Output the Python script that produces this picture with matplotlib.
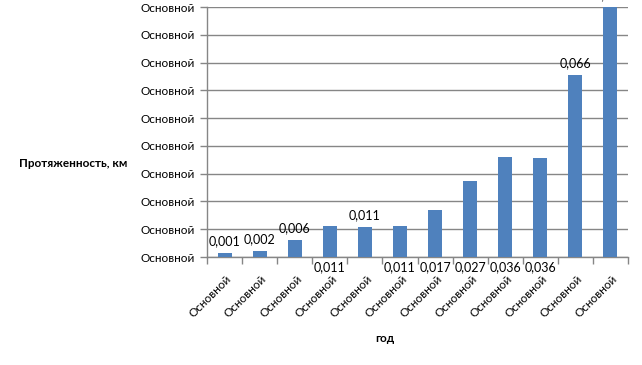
import matplotlib
matplotlib.use("Agg")
import matplotlib.pyplot as plt

plt.rcParams['font.family'] = ['Lato', 'DejaVu Sans']

categories = ["Основной"] * 12
values = [0.0014, 0.0023, 0.0062, 0.0113, 0.0109, 0.0113, 0.0169, 0.0273, 0.0361, 0.0356, 0.0655, 0.090]
value_labels = ["0,001", "0,002", "0,006", "0,011", "0,011", "0,011", "0,017", "0,027", "0,036", "0,036", "0,066", "0,090"]
label_above = [True, True, True, False, True, False, False, False, False, False, True, True]
ytick_values = [0.00, 0.01, 0.02, 0.03, 0.04, 0.05, 0.06, 0.07, 0.08, 0.09]
ytick_labels = ["Основной"] * 10

fig = plt.figure(figsize=(6.42, 3.65), dpi=100)
ax = fig.add_axes([207/642, 1 - 257/365, (628 - 207)/642, (257 - 7)/365])

x = list(range(len(values)))
ax.bar(x, values, width=0.4, color='#4F81BD', zorder=3)

ax.set_xlim(-0.5, len(values) - 0.5)
ax.set_ylim(0, 0.09)
ax.set_yticks(ytick_values)
ax.set_yticklabels(ytick_labels)
ax.yaxis.grid(True, color='#868686', linewidth=1.0, zorder=0)
ax.tick_params(axis='y', length=5, width=1, color='#868686', labelsize=8.5, pad=4, labelcolor='black')

# category boundary ticks
ax.set_xticks([i - 0.5 for i in range(len(values) + 1)])
ax.set_xticklabels([])
ax.tick_params(axis='x', length=5, width=1, color='#868686')
for i, c in enumerate(categories):
    ax.annotate(c, xy=(i, 0), xycoords=('data', 'axes fraction'), xytext=(1, -12),
                textcoords='offset points', rotation=45, ha='right', va='top',
                rotation_mode='anchor', fontsize=8.5, annotation_clip=False)

for s in ['top', 'right']:
    ax.spines[s].set_visible(False)
for s in ['left', 'bottom']:
    ax.spines[s].set_color('#868686')
    ax.spines[s].set_linewidth(1.0)

for i, (v, lab, above) in enumerate(zip(values, value_labels, label_above)):
    if above:
        ax.annotate(lab, xy=(i, v), xytext=(0, 4), textcoords='offset points',
                    ha='center', va='bottom', fontsize=9, annotation_clip=False)
    else:
        ax.annotate(lab, xy=(i, 0), xytext=(0, -7), textcoords='offset points',
                    ha='center', va='center', fontsize=9, annotation_clip=False)

fig.text(73/642, 1 - 163/365, "Протяженность, км", ha='center', va='center',
         fontsize=8.5, fontweight='bold')
fig.text(385/642, 1 - 338/365, "год", ha='center', va='center',
         fontsize=8.5, fontweight='bold')

fig.savefig("out.png", dpi=100)
